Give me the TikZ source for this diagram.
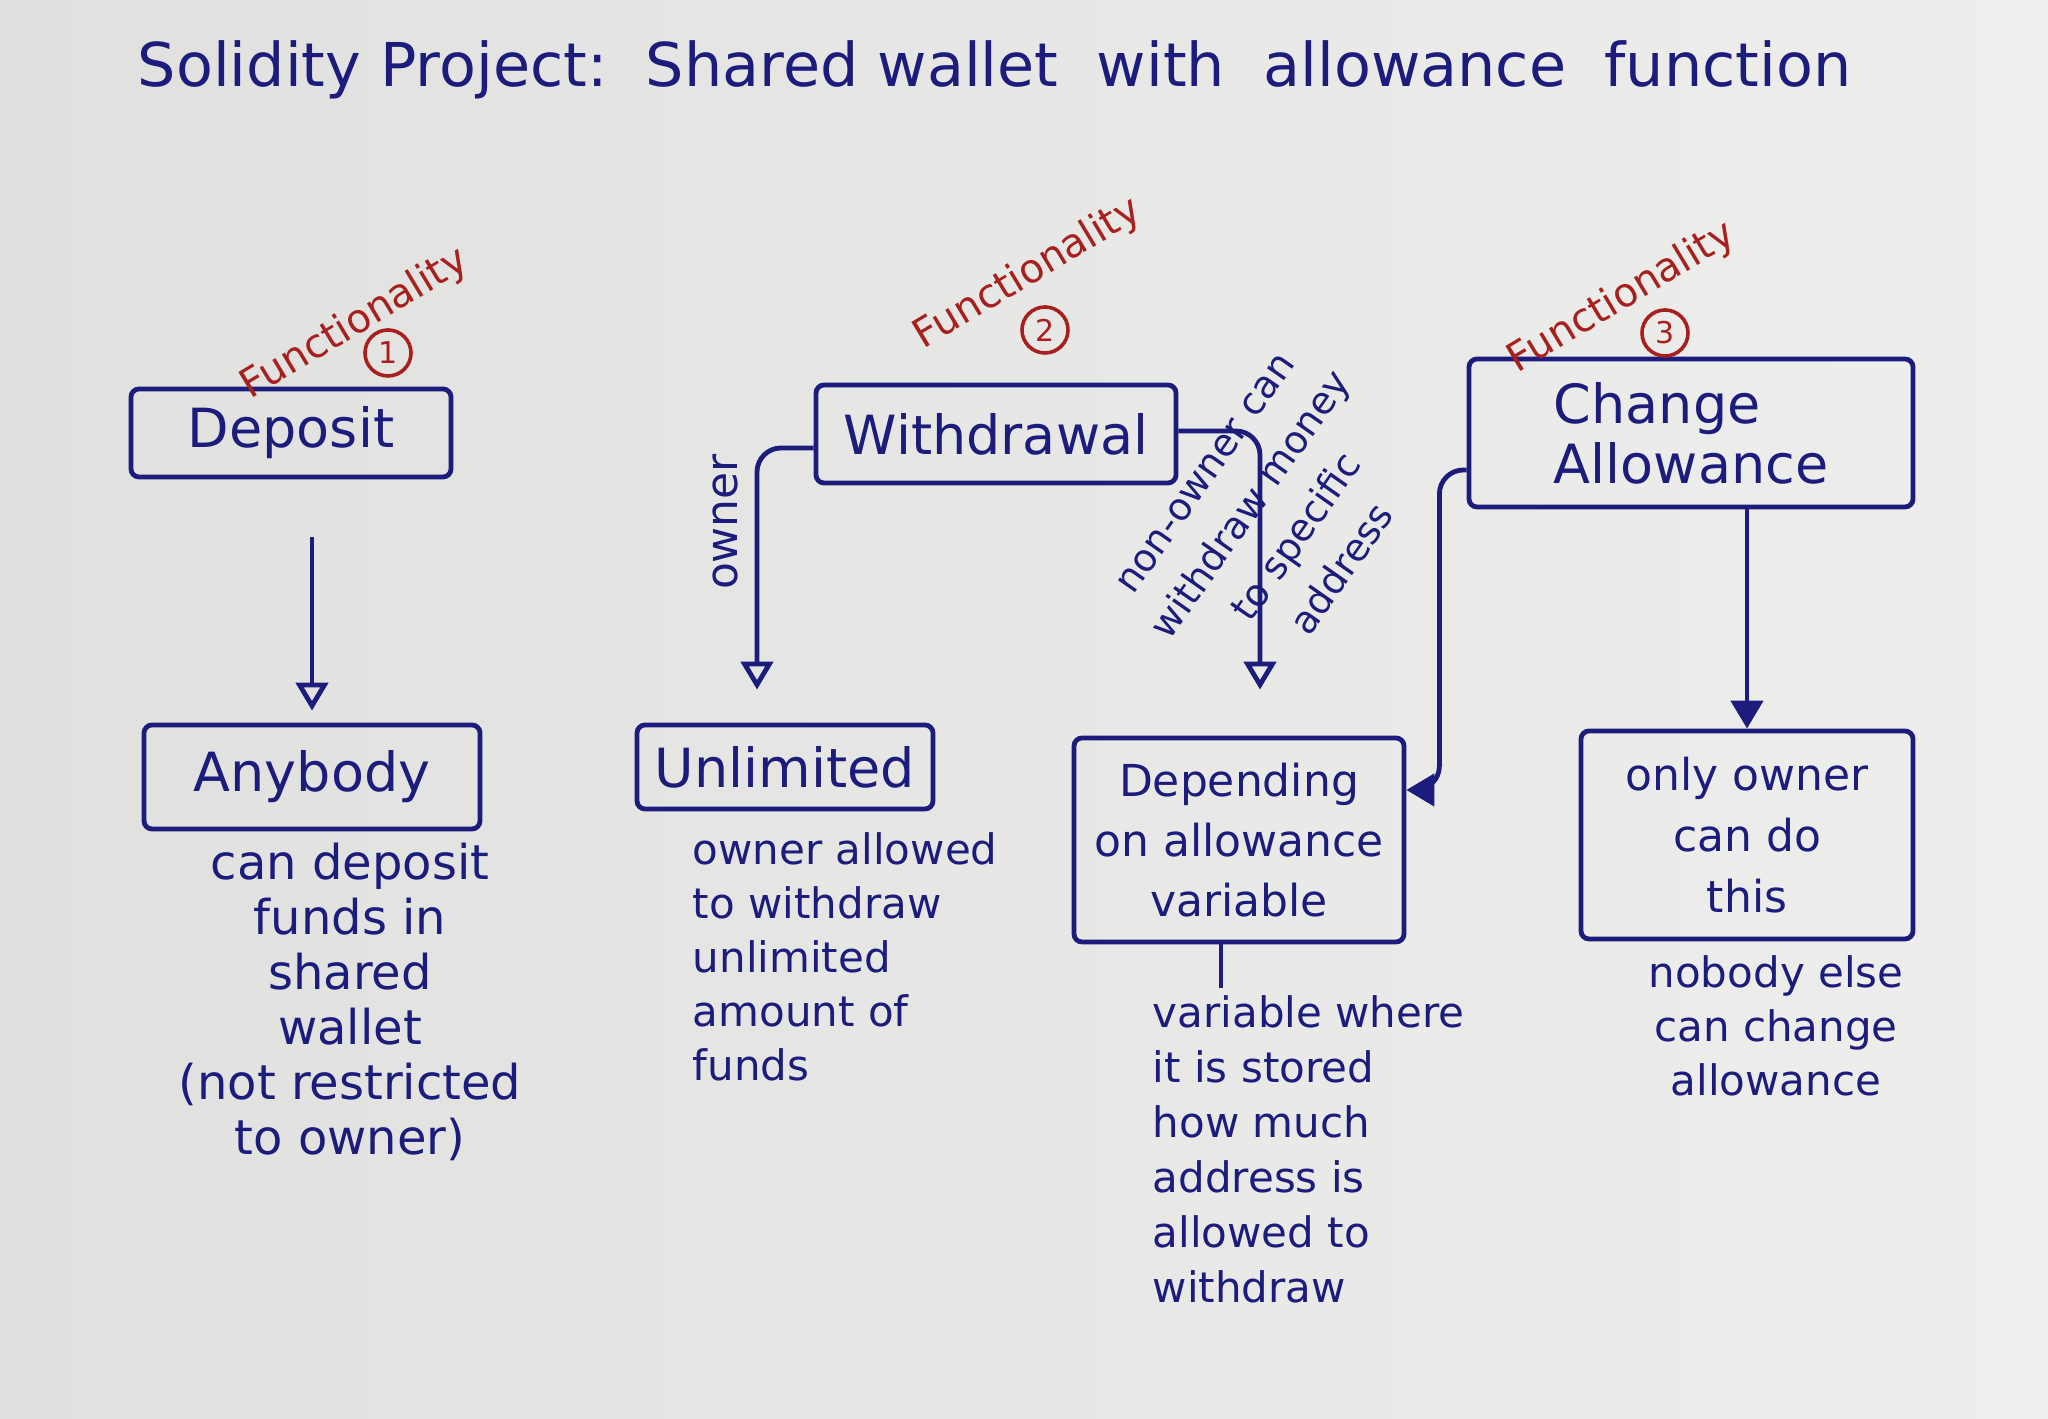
\documentclass[tikz,border=0pt]{standalone}
\usepackage{fontspec}
\setmainfont{DejaVu Sans}
\usetikzlibrary{arrows.meta,calc}
\definecolor{ink}{RGB}{28,28,125}
\definecolor{redink}{RGB}{168,32,30}
\definecolor{paperl}{RGB}{224,225,223}
\definecolor{paperr}{RGB}{238,238,236}

\begin{document}
\begin{tikzpicture}[x=0.25pt,y=0.25pt,yscale=-1,xscale=1,
  pen/.style={draw=ink,line width=1.2pt},
  box/.style={pen,rounded corners=2pt,text=ink,font=\fontsize{13.5}{15}\selectfont,align=center,inner sep=2pt},
  note/.style={text=ink,font=\fontsize{11}{13.75}\selectfont,inner sep=0pt},
  func/.style={text=redink,font=\fontsize{10}{12}\selectfont,rotate=31,inner sep=0pt},
  num/.style={circle,draw=redink,line width=0.9pt,text=redink,font=\fontsize{7.5}{8}\selectfont,minimum size=11.5pt,inner sep=0pt},
  openarr/.style={pen,-{Triangle[open,length=7pt,width=8pt]}},
  fillarr/.style={pen,-{Triangle[length=7pt,width=8pt]}}]
%uncomment if require: \path (0,1419); %paper is 2048 wide, 1419 high
\useasboundingbox (0,0) rectangle (2048,1419);
\shade[left color=paperl,right color=paperr] (0,0) rectangle (2048,1419);

%Title
\node[anchor=west,inner sep=0pt,text=ink,font=\fontsize{15.1}{17}\selectfont] (title) at (137,70) {Solidity Project:\ \ Shared wallet\ \ with\ \ allowance\ \ function};

%Boxes, top row
\node[box,minimum width=80pt,minimum height=22pt] (deposit) at (291,433) {Deposit};
\node[box,minimum width=90pt,minimum height=24.5pt] (withdrawal) at (996,434) {Withdrawal};
\node[box,minimum width=111pt,minimum height=37pt,align=left] (change) at (1691,433) {Change\\Allowance};
%Boxes, bottom row
\node[box,minimum width=84pt,minimum height=26pt] (anybody) at (312,777) {Anybody};
\node[box,minimum width=74pt,minimum height=21pt] (unlimited) at (785,767) {Unlimited};
\node[box,minimum width=82.5pt,minimum height=51pt,font=\fontsize{11}{15}\selectfont] (depending) at (1239,840) {Depending\\on allowance\\variable};
\node[box,minimum width=83pt,minimum height=52pt,font=\fontsize{11}{15.3}\selectfont] (onlyowner) at (1747,835) {only owner\\can do\\this};

%Red functionality marks
\node[func] (func1) at (355,324) {Functionality};
\node[num] (num1) at (388,353) {1};
\node[func] (func2) at (1028,274) {Functionality};
\node[num] (num2) at (1045,330) {2};
\node[func] (func3) at (1622,298) {Functionality};
\node[num] (num3) at (1665,333) {3};

%Labels on the withdrawal branches
\node[note,rotate=90] (ownerlbl) at (725,522) {owner};
\node[note,rotate=55,align=center,font=\fontsize{9.5}{14}\selectfont] (nonownerlbl) at (1275,522) {non-owner can\\withdraw money\\to specific\\address};

%Notes under the boxes
\node[note,anchor=north,align=center,font=\fontsize{12}{13.75}\selectfont] (anynote) at (350,842) {can deposit\\funds in\\shared\\wallet\\(not restricted\\to owner)};
\node[note,anchor=north west,align=left,font=\fontsize{10.5}{13.5}\selectfont] (unlimnote) at (692,832) {owner allowed\\to withdraw\\unlimited\\amount of\\funds};
\node[note,anchor=north west,align=left,font=\fontsize{10.5}{13.75}\selectfont] (depnote) at (1152,995) {variable where\\it is stored\\how much\\address is\\allowed to\\withdraw};
\node[note,anchor=north,align=center,font=\fontsize{10.5}{13.5}\selectfont] (ownernote) at (1776,955) {nobody else\\can change\\allowance};

%Arrow deposit -> anybody
\draw[openarr,shorten <=14.5pt,shorten >=3pt] (deposit.south -| anybody.north) -- (anybody.north);
%Arrow withdrawal -> unlimited (owner)
\coordinate (ownerend) at ($(unlimited.north)+(-28,-33)$);
\draw[openarr,rounded corners=6pt] ($(withdrawal.west)+(0,14)$) -| (ownerend);
%Arrow withdrawal -> depending (non-owner)
\coordinate (nonownerend) at ($(depending.north)+(21,-46)$);
\draw[openarr,rounded corners=6pt] ($(withdrawal.east)+(0,-3)$) -| (nonownerend);
%Arrow change allowance -> depending
\draw[fillarr,rounded corners=6pt] ($(change.west)+(0,37)$) -| ($(depending.east)+(33,-50)$) -- ($(depending.east)+(0,-50)$);
%Arrow change allowance -> only owner
\draw[fillarr] (change.south -| onlyowner.north) -- (onlyowner.north);
%Tick from depending to its note
\coordinate (tick) at (1221,988);
\draw[pen] (depending.south -| tick) -- (tick);

\end{tikzpicture}
\end{document}
